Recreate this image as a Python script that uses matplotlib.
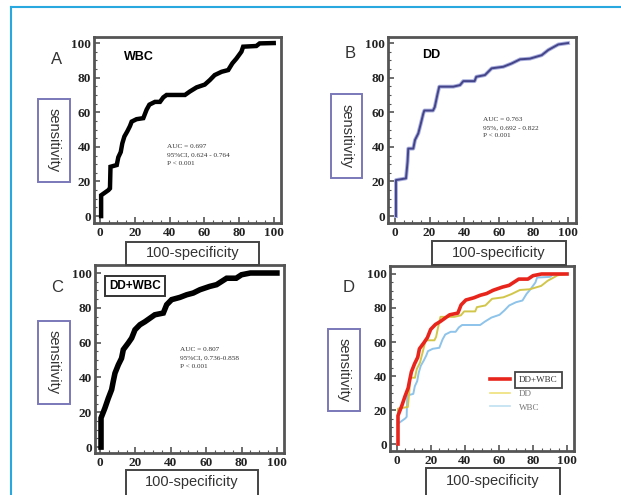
import matplotlib
matplotlib.use('Agg')
from matplotlib import pyplot as plt
from matplotlib.patches import Rectangle
from matplotlib.lines import Line2D
from matplotlib.ticker import AutoMinorLocator
import matplotlib.patheffects as pe

# ROC curves (100-specificity, sensitivity)
wbc_x = [0.6, 0.6, 4.8, 5.7, 6.0, 9.6, 10.5, 11.9, 12.8, 14.0, 15.7, 17.2, 18.2, 21.0, 24.9, 26.8,
         28.4, 31.6, 34.5, 36.4, 38.3, 48.9, 51.7, 55.6, 60.3, 63.2, 66.0, 70.0, 73.8, 76.2, 78.5,
         81.4, 82.4, 90.0, 91.9, 100.0]
wbc_y = [0, 12, 15, 16, 28.5, 29.5, 34, 37, 42, 46, 49, 52, 54.6, 56, 56.6, 61.5,
         64.4, 66, 66, 68.6, 70, 70, 72, 74.4, 76, 78.6, 81.5, 83.4, 84.4, 88.3, 91,
         95, 97.9, 98.3, 99.8, 100]

dd_x = [0.6, 0.6, 6.4, 7.3, 7.7, 10.6, 11.6, 13.5, 15.0, 16.4, 17.0, 22.0, 23.0, 24.6, 25.6, 33.7,
        37.6, 39.5, 46.0, 47.0, 52.0, 55.9, 62.6, 67.4, 72.3, 78.0, 84.8, 88.6, 94.4, 100.0]
dd_y = [0, 20.8, 21.8, 31.4, 39, 39, 44, 47.8, 53.6, 59.3, 61, 61, 63, 70.5, 74.8, 74.8,
        75.7, 78, 78, 80.5, 81.5, 85.4, 86.3, 88.2, 90.6, 91, 93, 96, 99.2, 100]

comb_x = [0.6, 0.6, 2.8, 4.7, 6.6, 7.5, 8.5, 10.4, 12.2, 13.2, 16.0, 17.9, 19.8, 22.6, 25.4, 28.2,
          31.0, 35.8, 37.7, 40.5, 45.2, 49.0, 52.7, 56.5, 62.0, 65.9, 71.6, 77.0, 80.0, 85.0, 100.0]
comb_y = [0, 16.7, 22.4, 28, 33, 37.7, 42.5, 47.3, 51, 56, 59.8, 62.6, 67.4, 70.3, 72, 74,
          76, 77, 81.8, 84.7, 86, 87.5, 88.5, 90.4, 92.3, 93.3, 97, 97, 99, 100, 100]

ticks = [0, 20, 40, 60, 80, 100]
stats_wbc = ["AUC = 0.697", "95%CI, 0.624 - 0.764", "P < 0.001"]
stats_dd = ["AUC = 0.763", "95%, 0.692 - 0.822", "P < 0.001"]
stats_comb = ["AUC = 0.807", "95%CI, 0.736-0.858", "P < 0.001"]
legend_labels = ["DD+WBC", "DD", "WBC"]

W, H = 621, 495


def fig_xy(x, y):
    return x / W, 1 - y / H


def axes_at(fig, left, top, right, bottom, xlim, ylim):
    ax = fig.add_axes([left / W, 1 - bottom / H, (right - left) / W, (bottom - top) / H])
    ax.set_xlim(*xlim)
    ax.set_ylim(*ylim)
    ax.set_xticks(ticks)
    ax.set_yticks(ticks)
    ax.xaxis.set_minor_locator(AutoMinorLocator(4))
    ax.yaxis.set_minor_locator(AutoMinorLocator(4))
    ax.tick_params(which='both', direction='in', top=False, right=False, color='#555555')
    ax.tick_params(which='major', length=4, width=1.2)
    ax.tick_params(which='minor', length=2, width=0.8)
    ax.tick_params(axis='y', pad=2)
    ax.tick_params(axis='x', pad=3)
    for lab in ax.get_xticklabels() + ax.get_yticklabels():
        lab.set_family('Liberation Serif')
        lab.set_weight('bold')
        lab.set_fontsize(9.5)
        lab.set_color('#222222')
    for s in ax.spines.values():
        s.set_color('#555555')
        s.set_linewidth(2)
    return ax


def box_label(fig, text, x0, y0, x1, y1, edge, rotation=0, ty=None):
    fx0, fy1 = fig_xy(x0, y1)
    fx1, fy0 = fig_xy(x1, y0)
    fig.add_artist(Rectangle((fx0, fy1), fx1 - fx0, fy0 - fy1, transform=fig.transFigure,
                             fill=False, edgecolor=edge, linewidth=1.4, clip_on=False))
    cy = (y0 + y1) / 2 if ty is None else ty
    cx, cyf = fig_xy((x0 + x1) / 2, cy)
    fig.text(cx, cyf, text, rotation=rotation, ha='center', va='center',
             fontsize=10.5, color='#333333', family='Liberation Sans')


def stats(ax, x, y, lines):
    for i, s in enumerate(lines):
        ax.text(x, y - i * 4.8, s, fontsize=5.2, family='Liberation Serif', color='#333333', va='center')


fig = plt.figure(figsize=(6.21, 4.95), dpi=100)

# light blue page border
fig.add_artist(Line2D([11 / W, 11 / W], [0, 1 - 7 / H], transform=fig.transFigure, color='#29a8e0', lw=1.5))
fig.add_artist(Line2D([11 / W, 1], [1 - 7 / H, 1 - 7 / H], transform=fig.transFigure, color='#29a8e0', lw=1.5))

# A: WBC
axA = axes_at(fig, 94, 37, 281, 223, (-3.5, 104.2), (-4, 103.5))
axA.plot(wbc_x, wbc_y, color='black', lw=3.2, solid_joinstyle='miter')
axA.text(14, 92, "WBC", fontsize=9, weight='bold', family='Liberation Sans', va='center')
stats(axA, 38.5, 40, stats_wbc)

# B: DD
axB = axes_at(fig, 388, 37, 576, 223, (-4, 104.6), (-4, 103.5))
axB.plot(dd_x, dd_y, color='#44448a', lw=1.4,
         path_effects=[pe.Stroke(linewidth=2.8, foreground='#aab0dd'), pe.Normal()])
axB.text(15.6, 93, "DD", fontsize=9, weight='bold', family='Liberation Sans', va='center')
stats(axB, 51, 56, stats_dd)

# C: DD+WBC
axC = axes_at(fig, 95, 265, 284, 453, (-2.8, 104), (-3.4, 104.6))
axC.plot(comb_x, comb_y, color='black', lw=4, solid_joinstyle='miter')
axC.text(20, 92.5, "DD+WBC", fontsize=8.5, weight='bold', family='Liberation Sans', ha='center', va='center',
         bbox=dict(boxstyle='square,pad=0.35', fc='white', ec='#333333', lw=1.4))
stats(axC, 45, 56, stats_comb)

# D: all three
axD = axes_at(fig, 390, 266, 574, 451, (-4.1, 104.1), (-4.1, 104.7))
axD.plot(wbc_x, wbc_y, color='#8ec3ea', lw=1.4)
axD.plot(dd_x, dd_y, color='#d2c64a', lw=1.4)
axD.plot(comb_x, comb_y, color='#e8251c', lw=2.6)
handles = [Line2D([], [], color='#e8251c', lw=2.6),
           Line2D([], [], color='#f0e07a', lw=1.2),
           Line2D([], [], color='#bfe0f2', lw=1.2)]
leg = axD.legend(handles, legend_labels, loc='center left', bbox_to_anchor=(0.5, 0.31),
                 frameon=False, prop={'family': 'Liberation Serif', 'size': 6.5},
                 handlelength=2.2, handletextpad=1.0, labelspacing=0.6)
for t in leg.get_texts():
    t.set_color('#777777')
leg.get_texts()[0].set_color('#333333')
leg.get_texts()[0].set_bbox(dict(boxstyle='square,pad=0.45', fc='white', ec='#444444', lw=1.3))

# panel letters
for letter, (x, y) in zip("ABCD", [(57, 59), (350, 53), (57, 288), (349, 288)]):
    fx, fy = fig_xy(x, y)
    fig.text(fx, fy, letter, fontsize=12, color='#333333', family='Liberation Sans', ha='center', va='center')

# axis label boxes
box_label(fig, "sensitivity", 38, 99, 70, 182, '#7a78b8', rotation=270)
box_label(fig, "sensitivity", 331, 94, 362, 178, '#7a78b8', rotation=270)
box_label(fig, "sensitivity", 38, 321, 70, 404, '#7a78b8', rotation=270)
box_label(fig, "sensitivity", 328, 329, 360, 411, '#7a78b8', rotation=270)
box_label(fig, "100-specificity", 126, 242, 259, 265, '#444444')
box_label(fig, "100-specificity", 432, 241, 566, 265, '#444444')
box_label(fig, "100-specificity", 126, 470, 258, 500, '#444444', ty=482)
box_label(fig, "100-specificity", 426, 468, 560, 500, '#444444', ty=481)

fig.savefig("out.png", dpi=100)
